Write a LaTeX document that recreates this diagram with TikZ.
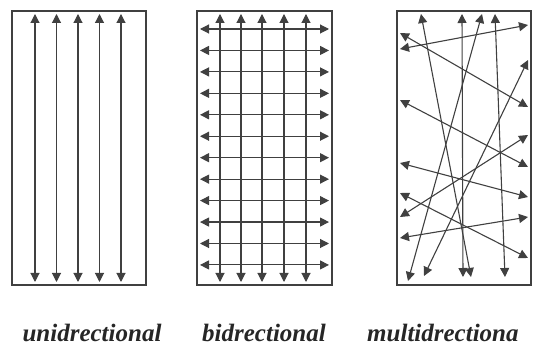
\documentclass[tikz,border=0pt]{standalone}
\usepackage{tikz}
\usepackage{fontspec}
\setmainfont{Liberation Serif}
\usetikzlibrary{arrows.meta}

\tikzset{
    panel/.style={draw=black!75,line width=1.8pt},
    fibre/.style={draw=black!75,line width=1.1pt,{Triangle[length=9pt,width=9pt]}-{Triangle[length=9pt,width=9pt]}},
    caption/.style={font=\fontsize{25}{30}\selectfont\itshape\bfseries,text=black!85,inner sep=0pt},
}

\begin{document}
\begin{tikzpicture}[x=1pt,y=-1pt]
            \useasboundingbox (0,0) rectangle (539,347);

            % unidirectional
            \draw[panel] (12,11) rectangle (146,285);
            \foreach \xx in {35,56.5,78,99.5,121}
                \draw[fibre] (\xx,14) -- (\xx,282);

            % bidirectional
            \draw[panel] (197,11) rectangle (332,285);
            \foreach \xx in {220,241,262,284,306}
                \draw[fibre] (\xx,14) -- (\xx,282);
            \foreach \k in {0,...,11}
                \draw[fibre] (200,29+21.45*\k) -- (329,29+21.45*\k);

            % multidirectional
            \draw[panel] (397,11) rectangle (531,285);
            \draw[fibre] (421,14) -- (471,277);
            \draw[fibre] (462,14) -- (463,277);
            \draw[fibre] (482,14) -- (408,281);
            \draw[fibre] (495,14) -- (505,277);
            \draw[fibre] (400,49) -- (528,25);
            \draw[fibre] (400,33) -- (528,107);
            \draw[fibre] (400,100) -- (528,167);
            \draw[fibre] (528,135) -- (400,217);
            \draw[fibre] (400,163) -- (528,197);
            \draw[fibre] (400,193) -- (528,258);
            \draw[fibre] (528,217) -- (400,238);
            \draw[fibre] (528,60) -- (424,276);

            \node[caption] (uni) at (92,333) {unidrectional};
            \node[caption] (bi) at (264,333) {bidrectional};
            \node[caption,anchor=west] (multi) at (367,333) {multidrectiona};
\end{tikzpicture}
\end{document}
